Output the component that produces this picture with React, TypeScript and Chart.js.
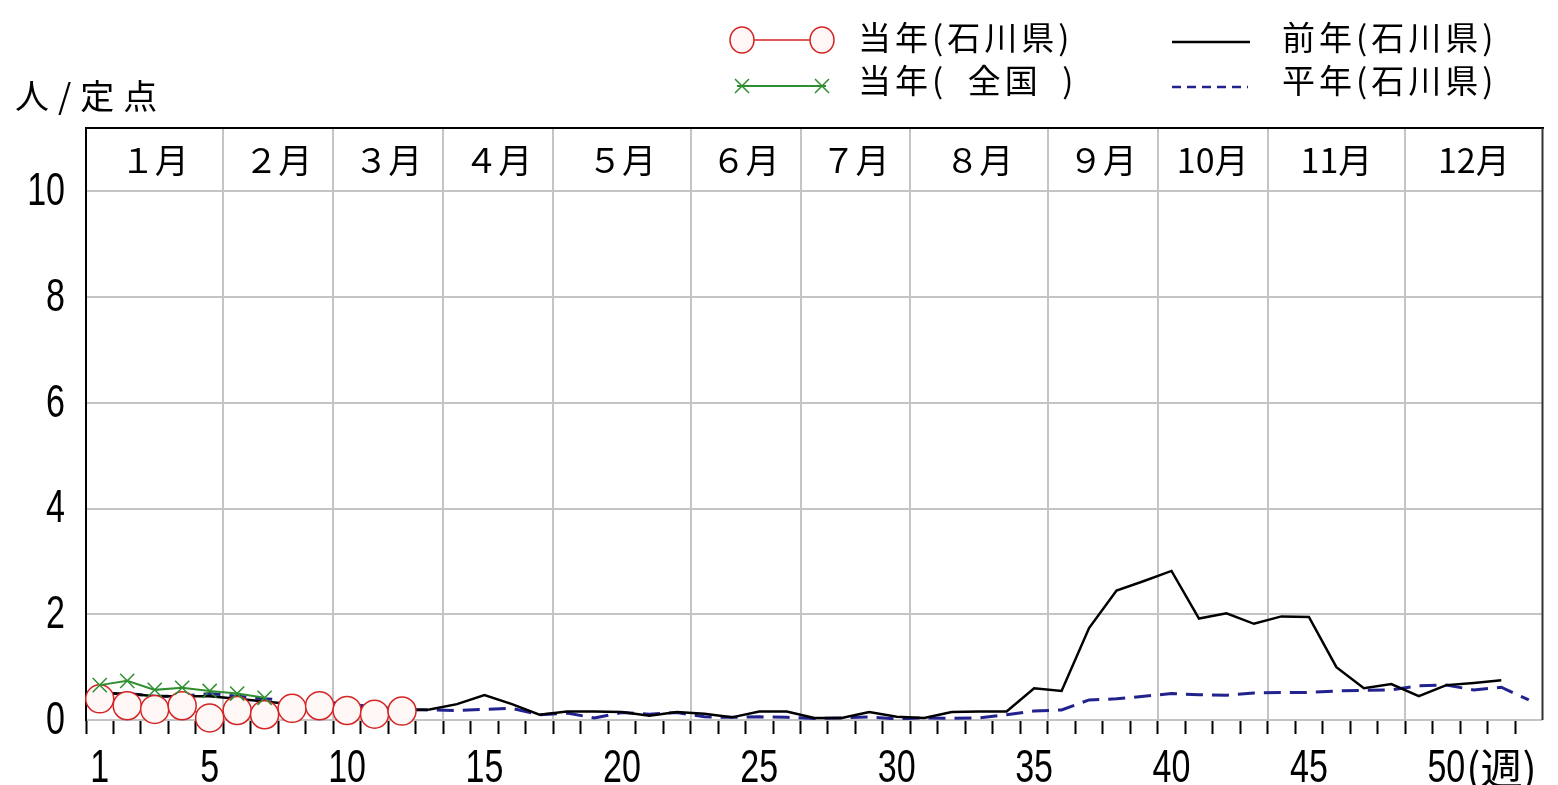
import React, { useEffect, useRef } from 'react';
import { Chart, registerables } from 'chart.js';

Chart.register(...registerables);

// ---- data ----
const totalWeeks = 53;
const weekTickLabels = [1, 5, 10, 15, 20, 25, 30, 35, 40, 45, 50];
const weekUnit = '(週)';
const yTickValues = [0, 2, 4, 6, 8, 10];
const yMaxValue = 11.2;
const yUnitLabel = '人/定点';

const monthNames = ['１月', '２月', '３月', '４月', '５月', '６月', '７月', '８月', '９月', '10月', '11月', '12月'];
const monthStartWeeks = [1, 6, 10, 14, 18, 23, 27, 31, 36, 40, 44, 49];

const seriesNames = ['当年(石川県)', '当年(\u2002全国\u2002)', '前年(石川県)', '平年(石川県)'];

// 当年(石川県)
const currentPref = [0.4, 0.27, 0.2, 0.27, 0.04, 0.18, 0.1, 0.22, 0.27, 0.18, 0.11, 0.17];
// 当年(全国)
const currentNation = [0.66, 0.74, 0.57, 0.61, 0.55, 0.5, 0.42];
// 前年(石川県)
const prevYear = [
  0.5, 0.5, 0.45, 0.45, 0.45, 0.4, 0.35, 0.3, 0.3, 0.25, 0.2, 0.18,
  0.2, 0.3, 0.47, 0.3, 0.1, 0.16, 0.16, 0.15, 0.08, 0.15, 0.12, 0.05,
  0.16, 0.16, 0.04, 0.04, 0.15, 0.06, 0.04, 0.15, 0.16, 0.16, 0.6, 0.55,
  1.74, 2.45, 2.63, 2.82, 1.92, 2.02, 1.82, 1.96, 1.95, 1.0, 0.6, 0.68,
  0.45, 0.66, 0.7, 0.75,
];
// 平年(石川県)
const normalYear = [
  0.5, 0.5, 0.45, 0.45, 0.5, 0.45, 0.4, 0.38, 0.35, 0.3, 0.25, 0.2,
  0.19, 0.18, 0.2, 0.22, 0.1, 0.13, 0.04, 0.14, 0.11, 0.14, 0.06, 0.05,
  0.06, 0.05, 0.03, 0.04, 0.06, 0.02, 0.04, 0.03, 0.04, 0.1, 0.17, 0.19,
  0.38, 0.4, 0.45, 0.5, 0.48, 0.47, 0.51, 0.52, 0.52, 0.55, 0.56, 0.57,
  0.65, 0.66, 0.57, 0.62, 0.38,
];

// ---- styles ----
const CJK = '"Noto Sans CJK JP", "Noto Sans CJK SC", sans-serif';
const DIGITS = '"Liberation Sans", "DejaVu Sans", sans-serif';
const RED = '#d42424';
const GREEN = '#2f8f2f';
const NAVY = '#22228f';
const GRID = '#c4c4c4';
const DIGIT_SIZE = 46;
const DIGIT_SQUEEZE = 0.74;
const TICK_LEN = 14;

const toPoints = (arr: number[]) => arr.map((v, i) => ({ x: i + 1, y: v }));
const halfWeekTicks = Array.from({ length: totalWeeks }, (_, i) => i + 0.5);
const monthBoundaries = monthStartWeeks.slice(1).map((w) => w - 0.5);

function squeezedText(ctx: CanvasRenderingContext2D, text: string, x: number, y: number) {
  const w = ctx.measureText(text).width;
  ctx.fillText(text, x, y, w * DIGIT_SQUEEZE);
  return w * DIGIT_SQUEEZE;
}

const decorPlugin = {
  id: 'decor',
  afterDraw(chart: any) {
    const { ctx, chartArea } = chart;
    const xs = chart.scales.x;
    const ys = chart.scales.y;
    ctx.save();

    // right frame
    ctx.strokeStyle = '#333';
    ctx.lineWidth = 2;
    ctx.beginPath();
    ctx.moveTo(chartArea.right, chartArea.top);
    ctx.lineTo(chartArea.right, chartArea.bottom);
    ctx.stroke();

    ctx.fillStyle = '#000';
    ctx.textBaseline = 'middle';

    // y tick labels
    ctx.font = `${DIGIT_SIZE}px ${DIGITS}`;
    ctx.textAlign = 'right';
    ys.ticks.forEach((t: any) => {
      squeezedText(ctx, String(t.value), chartArea.left - 21, ys.getPixelForValue(t.value) + 1);
    });

    // x tick labels
    ctx.textAlign = 'center';
    const labelY = chartArea.bottom + 49;
    let lastRight = 0;
    weekTickLabels.forEach((w) => {
      const cx = xs.getPixelForValue(w);
      const wd = squeezedText(ctx, String(w), cx, labelY);
      lastRight = cx + wd / 2;
    });
    ctx.font = `42px ${CJK}`;
    ctx.textAlign = 'left';
    ctx.fillText(weekUnit, lastRight + 1, labelY - 1);

    // month labels
    ctx.textAlign = 'center';
    ctx.font = `34px ${CJK}`;
    const yMid = (chartArea.top + ys.getPixelForValue(yTickValues[yTickValues.length - 1])) / 2;
    monthNames.forEach((name, i) => {
      const start = monthStartWeeks[i] - 0.5;
      const end = i + 1 < monthStartWeeks.length ? monthStartWeeks[i + 1] - 0.5 : totalWeeks + 0.5;
      const cx = (xs.getPixelForValue(start) + xs.getPixelForValue(end)) / 2;
      ctx.fillText(name, cx, yMid);
    });

    // y unit title
    ctx.textAlign = 'left';
    ctx.font = `34px ${CJK}`;
    (ctx as any).letterSpacing = '9px';
    ctx.fillText(yUnitLabel, 15, 96);

    // legend
    (ctx as any).letterSpacing = '4px';
    ctx.font = `33px ${CJK}`;
    const rows = [37, 80];
    const textX = [858, 1282];
    ctx.fillText(seriesNames[0], textX[0], rows[0]);
    ctx.fillText(seriesNames[1], textX[0], rows[1]);
    ctx.fillText(seriesNames[2], textX[1], rows[0]);
    ctx.fillText(seriesNames[3], textX[1], rows[1]);
    (ctx as any).letterSpacing = '0px';

    // red marker
    ctx.strokeStyle = RED;
    ctx.lineWidth = 1.5;
    ctx.beginPath();
    ctx.moveTo(753, 40);
    ctx.lineTo(811, 40);
    ctx.stroke();
    ctx.fillStyle = '#fff6f6';
    [742, 822].forEach((cx) => {
      ctx.beginPath();
      ctx.ellipse(cx, 40, 12, 13, 0, 0, Math.PI * 2);
      ctx.fill();
      ctx.stroke();
    });

    // green marker
    ctx.strokeStyle = GREEN;
    ctx.lineWidth = 2;
    ctx.beginPath();
    ctx.moveTo(737, 86);
    ctx.lineTo(826, 86);
    ctx.stroke();
    ctx.lineWidth = 1.5;
    [742, 822].forEach((cx) => {
      ctx.beginPath();
      ctx.moveTo(cx - 7, 79);
      ctx.lineTo(cx + 7, 93);
      ctx.moveTo(cx + 7, 79);
      ctx.lineTo(cx - 7, 93);
      ctx.stroke();
    });

    // black marker
    ctx.strokeStyle = '#000';
    ctx.lineWidth = 2.5;
    ctx.beginPath();
    ctx.moveTo(1172, 42);
    ctx.lineTo(1250, 42);
    ctx.stroke();

    // navy dashed marker
    ctx.strokeStyle = NAVY;
    ctx.lineWidth = 2.5;
    ctx.setLineDash([9, 6]);
    ctx.beginPath();
    ctx.moveTo(1172, 87);
    ctx.lineTo(1248, 87);
    ctx.stroke();
    ctx.setLineDash([]);

    ctx.restore();
  },
};

export default function App() {
  const canvasRef = useRef<HTMLCanvasElement | null>(null);

  useEffect(() => {
    document.body.style.margin = '0';
    const canvas = canvasRef.current;
    if (!canvas) return;

    const chart = new Chart(canvas, {
      type: 'line',
      data: {
        datasets: [
          {
            label: seriesNames[0],
            data: toPoints(currentPref),
            borderColor: RED,
            borderWidth: 1.5,
            pointStyle: 'circle',
            pointRadius: 14,
            pointBackgroundColor: '#fff6f6',
            pointBorderColor: RED,
            pointBorderWidth: 1.5,
            order: 2,
            clip: false,
          },
          {
            label: seriesNames[1],
            data: toPoints(currentNation),
            borderColor: GREEN,
            borderWidth: 2,
            pointStyle: 'crossRot',
            pointRadius: 10,
            pointBorderColor: GREEN,
            pointBorderWidth: 1.5,
            order: 1,
            clip: false,
          },
          {
            label: seriesNames[2],
            data: toPoints(prevYear),
            borderColor: '#000',
            borderWidth: 2.5,
            pointRadius: 0,
            order: 3,
          },
          {
            label: seriesNames[3],
            data: toPoints(normalYear),
            borderColor: NAVY,
            borderWidth: 3,
            borderDash: [17, 9],
            pointRadius: 0,
            order: 4,
          },
        ],
      },
      options: {
        animation: false,
        responsive: true,
        maintainAspectRatio: false,
        events: [],
        layout: { padding: { top: 128, left: 0, right: 2, bottom: 0 } },
        plugins: {
          legend: { display: false },
          tooltip: { enabled: false },
          title: { display: false },
        },
        elements: { line: { tension: 0 } },
        scales: {
          x: {
            type: 'linear',
            position: 'bottom',
            min: 0.5,
            max: totalWeeks + 0.5,
            afterBuildTicks: (s: any) => {
              s.ticks = halfWeekTicks.map((v) => ({ value: v }));
            },
            afterFit: (s: any) => {
              s.height = 65;
            },
            grid: {
              drawOnChartArea: false,
              drawTicks: true,
              tickLength: TICK_LEN,
              tickColor: '#000',
              tickWidth: 2,
            },
            border: { display: false },
            ticks: { display: false },
          },
          xm: {
            type: 'linear',
            position: 'top',
            min: 0.5,
            max: totalWeeks + 0.5,
            afterBuildTicks: (s: any) => {
              s.ticks = monthBoundaries.map((v) => ({ value: v }));
            },
            afterFit: (s: any) => {
              s.height = 0;
            },
            grid: { drawOnChartArea: true, drawTicks: false, color: GRID, lineWidth: 2 },
            border: { display: true, color: '#000', width: 2 },
            ticks: { display: false },
          },
          y: {
            type: 'linear',
            min: 0,
            max: yMaxValue,
            afterBuildTicks: (s: any) => {
              s.ticks = yTickValues.map((v) => ({ value: v }));
            },
            afterFit: (s: any) => {
              s.width = 86;
            },
            grid: { color: GRID, lineWidth: 2, drawTicks: false },
            border: { display: true, color: '#000', width: 2 },
            ticks: { display: false },
          },
        },
      },
      plugins: [decorPlugin],
    } as any);

    return () => chart.destroy();
  }, []);

  return (
    <div style={{ position: 'relative', width: '1558px', height: '785px' }}>
      <canvas ref={canvasRef} />
    </div>
  );
}
